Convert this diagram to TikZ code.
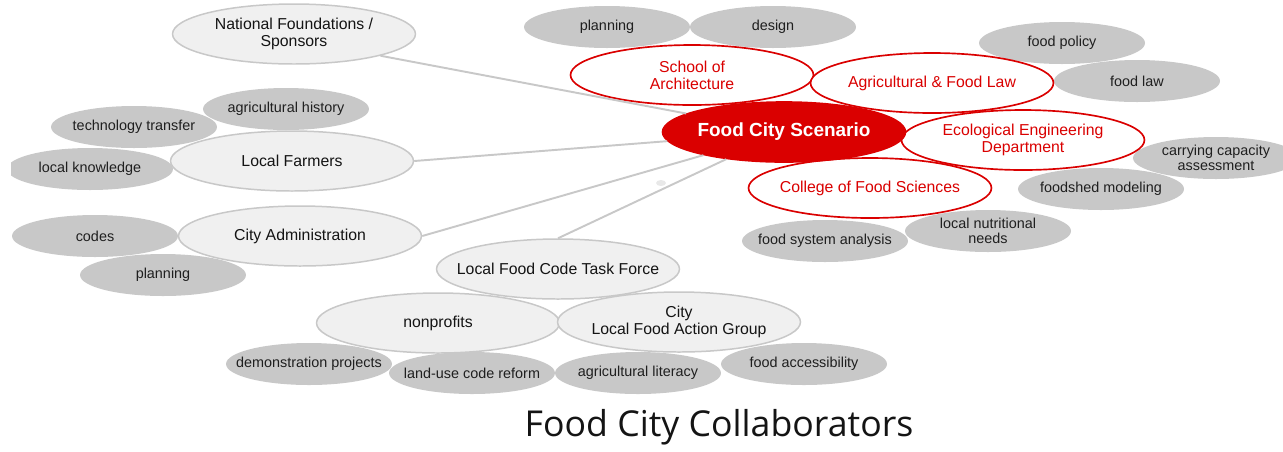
\documentclass[tikz,border=0pt]{standalone}
\usepackage{fontspec}
\setmainfont{Liberation Sans}
\newfontfamily\titlefont{Open Sans}
\usetikzlibrary{shapes.geometric}
\definecolor{topicgray}{RGB}{200,200,200}
\definecolor{partnerfill}{RGB}{240,240,240}
\definecolor{schoolred}{RGB}{218,0,0}

\begin{document}
\begin{tikzpicture}[x=0.02cm, y=-0.02cm,
  topic/.style={ellipse, fill=topicgray, minimum width=3.32cm, minimum height=0.84cm,
    inner ysep=0pt, inner xsep=-0.4cm, align=center, text=black!88, font=\fontsize{8.2}{8.3}\selectfont},
  partner/.style={ellipse, draw=topicgray, line width=0.85pt, fill=partnerfill,
    minimum width=4.86cm, minimum height=1.2cm, inner ysep=0pt, inner xsep=-0.5cm, align=center,
    text=black!92, font=\fontsize{9}{9.7}\selectfont},
  school/.style={partner, draw=schoolred, fill=white, text=schoolred, line width=0.95pt},
  link/.style={draw=topicgray, line width=1.1pt}]
\useasboundingbox (0,0) rectangle (1283,451);
\clip (11,0) rectangle (1283,451);

% topics
\node[topic] (planarch) at (607,27) {planning};
\node[topic] (design) at (773,27) {design};
\node[topic] (foodpolicy) at (1062,43) {food policy};
\node[topic] (foodlaw) at (1137,81) {food law};
\node[topic] (capacity) at (1216,158) {carrying capacity\\assessment};
\node[topic] (foodshed) at (1101,189) {foodshed modeling};
\node[topic] (nutrition) at (988,231) {local nutritional\\needs};
\node[topic] (sysanalysis) at (825,241) {food system analysis};
\node[topic] (aghistory) at (286,109) {agricultural history};
\node[topic] (techtransfer) at (134,127) {technology transfer};
\node[topic] (knowledge) at (90,169) {local knowledge};
\node[topic] (codes) at (95,236) {codes};
\node[topic] (planadmin) at (163,275) {planning};
\node[topic] (demo) at (309,364) {demonstration projects};
\node[topic] (landuse) at (472,373) {land-use code reform};
\node[topic] (literacy) at (638,373) {agricultural literacy};
\node[topic] (access) at (804,364) {food accessibility};

% partners
\node[partner] (natl) at (294,34) {National Foundations /\\Sponsors};
\node[partner] (farmers) at (292,161) {Local Farmers};
\node[partner] (admin) at (300,236) {City Administration};
\node[partner] (taskforce) at (558,269) {Local Food Code Task Force};
\node[partner] (nonprofits) at (438,323) {nonprofits};
\node[partner] (actiongroup) at (679,322) {City\\Local Food Action Group};

% schools
\node[school] (architecture) at (692,75) {School of\\Architecture};
\node[school] (foodlawdept) at (932,83) {Agricultural \& Food Law};
\node[school] (ecoeng) at (1023,140) {Ecological Engineering\\Department};
\node[school] (foodsci) at (870,188) {College of Food Sciences};
\node[school, fill=schoolred, text=white, font=\fontsize{10.8}{12}\bfseries] (scen) at (784,132) {Food City Scenario};

\node[ellipse, fill=black!9, minimum width=0.2cm, minimum height=0.12cm, inner sep=0pt] (speck) at (661,183) {};
\node[text=black!92, font=\titlefont\fontsize{20.3}{23}\selectfont] (title) at (719,427) {Food City Collaborators};

\draw[link] (natl.south east) -- (scen);
\draw[link] (farmers.east) -- (scen);
\draw[link] (admin.east) -- (scen);
\draw[link] (taskforce.north) -- (scen);
\end{tikzpicture}
\end{document}
